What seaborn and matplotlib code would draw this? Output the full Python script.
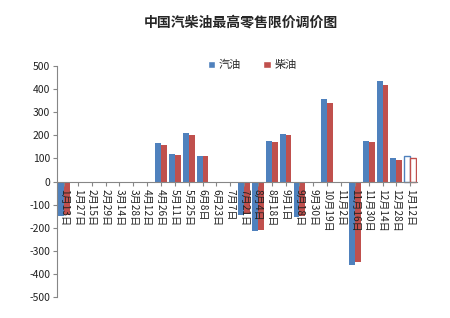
import matplotlib
matplotlib.use("Agg")
import matplotlib.pyplot as plt
import seaborn as sns
import pandas as pd
from matplotlib.patches import Patch

categories = ["1月13日", "1月27日", "2月15日", "2月29日", "3月14日", "3月28日", "4月12日",
              "4月26日", "5月11日", "5月25日", "6月8日", "6月23日", "7月7日", "7月21日",
              "8月4日", "8月18日", "9月1日", "9月18日", "9月30日", "10月19日", "11月2日",
              "11月16日", "11月30日", "12月14日", "12月28日", "1月12日"]
gasoline = [-150, 0, 0, 0, 0, 0, 0, 165, 120, 210, 110, 0, 0, -145, -215, 175, 205, -155,
            0, 356, 0, -361, 175, 435, 100, 110]
diesel = [-145, 0, 0, 0, 0, 0, 0, 159, 115, 200, 110, 0, 0, -140, -210, 170, 200, -150,
          0, 341, 0, -350, 170, 419, 94, 102]
series = ["汽油", "柴油"]
colors = ["#4F81BD", "#C0504D"]
yticks = [-500, -400, -300, -200, -100, 0, 100, 200, 300, 400, 500]
title = "中国汽柴油最高零售限价调价图"

sns.set_style("white")
plt.rcParams["font.family"] = ["Noto Sans CJK SC", "DejaVu Sans"]

df = pd.DataFrame({
    "date": categories * 2,
    "value": gasoline + diesel,
    "type": [series[0]] * len(categories) + [series[1]] * len(categories),
})

fig = plt.figure(figsize=(4.5, 3.18), dpi=100)
ax = fig.add_axes([0.127, 0.066, 0.80, 0.726])
sns.barplot(data=df, x="date", y="value", hue="type", order=categories,
            hue_order=series, palette=colors, width=0.85, linewidth=0,
            saturation=1, ax=ax, legend=False)

# last pair drawn hollow (forecast)
for cont, c in zip(ax.containers, colors):
    p = cont.patches[-1]
    p.set_facecolor("white")
    p.set_edgecolor(c)
    p.set_linewidth(1.0)

ax.spines["bottom"].set_position(("data", 0))
for s in ["top", "right"]:
    ax.spines[s].set_visible(False)
for s in ["left", "bottom"]:
    ax.spines[s].set_color("#868686")
    ax.spines[s].set_linewidth(0.8)
ax.set_axisbelow(False)

ax.set_ylim(-500, 500)
ax.set_xlim(-0.5, len(categories) - 0.5)
ax.set_xlabel("")
ax.set_ylabel("")
ax.set_yticks(yticks)
ax.set_yticklabels([str(v) for v in yticks])
ax.set_xticks(range(len(categories)))
ax.set_xticklabels(categories)
ax.tick_params(axis="y", which="both", left=True, length=3, color="#868686", pad=2,
               labelsize=7.5, labelcolor="#222222")
ax.tick_params(axis="x", which="both", bottom=True, length=3, color="#868686", pad=2,
               labelsize=7.3, labelcolor="#222222", labelrotation=-90)
for lbl in ax.get_xticklabels():
    lbl.set_verticalalignment("top")
    lbl.set_horizontalalignment("center")

fig.text(0.535, 0.93, title, ha="center", va="center", fontsize=10, fontweight="bold")

handles = [Patch(facecolor=c, label=s) for c, s in zip(colors, series)]
fig.legend(handles=handles, loc="center", bbox_to_anchor=(0.56, 0.795), ncol=2,
           frameon=False, fontsize=8, handlelength=0.7, handleheight=0.7,
           handletextpad=0.3, columnspacing=2.0)

fig.savefig("out.png", dpi=100)
